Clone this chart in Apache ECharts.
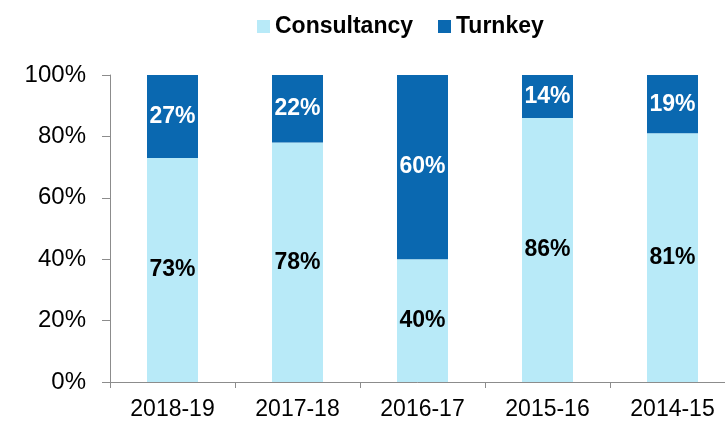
<!DOCTYPE html>
<html>
<head>
<meta charset="utf-8">
<script src="https://cdn.jsdelivr.net/npm/echarts@6/dist/echarts.min.js"></script>
<style>
  html, body { margin: 0; padding: 0; background: #fff; }
  #chart { width: 725px; height: 421px; }
</style>
</head>
<body>
<div id="chart"></div>
<script>
const years = ['2018-19', '2017-18', '2016-17', '2015-16', '2014-15']
const consultancy = [73, 78, 40, 86, 81]
const turnkey = [27, 22, 60, 14, 19]
const yTicks = [0, 20, 40, 60, 80, 100]

const node = document.getElementById('chart')
const myChart = echarts.init(node)

const font = 'Liberation Sans, Arial, sans-serif'
const axisGray = '#8c8c8c'

const option = {
	animation: false,
	legend: {
		data: ['Consultancy', 'Turnkey'],
		top: 10,
		left: 252,
		itemWidth: 13,
		itemHeight: 13,
		itemGap: 25,
		icon: 'rect',
		textStyle: {
			fontFamily: font,
			fontWeight: 'bold',
			fontSize: 23,
			color: '#000'
		}
	},
	grid: {
		left: 110,
		top: 75,
		width: 625,
		height: 307,
		outerBoundsMode: 'none'
	},
	xAxis: {
		type: 'category',
		data: years,
		axisLine: { lineStyle: { color: axisGray, width: 1 } },
		axisTick: { show: true, length: 6, lineStyle: { color: axisGray } },
		axisLabel: {
			fontFamily: font,
			fontSize: 23,
			color: '#000',
			margin: 16
		}
	},
	yAxis: {
		type: 'value',
		min: yTicks[0],
		max: yTicks[yTicks.length - 1],
		interval: 20,
		splitLine: { show: false },
		axisLine: { show: true, lineStyle: { color: axisGray, width: 1 } },
		axisTick: { show: true, length: 8, lineStyle: { color: axisGray } },
		axisLabel: {
			fontFamily: font,
			fontSize: 24,
			color: '#000',
			margin: 24,
			formatter: v => v + '%'
		}
	},
	series: [
		{
			name: 'Consultancy',
			type: 'bar',
			stack: 'total',
			barWidth: 51,
			data: consultancy,
			itemStyle: { color: '#b8eaf8' },
			label: {
				show: true,
				position: 'inside',
				fontFamily: font,
				fontWeight: 'bold',
				fontSize: 23,
				color: '#000',
				formatter: p => p.value + '%'
			}
		},
		{
			name: 'Turnkey',
			type: 'bar',
			stack: 'total',
			barWidth: 51,
			data: turnkey,
			itemStyle: { color: '#0a68b0' },
			label: {
				show: true,
				position: 'inside',
				fontFamily: font,
				fontWeight: 'bold',
				fontSize: 23,
				color: '#fff',
				formatter: p => p.value + '%'
			}
		}
	]
}

myChart.setOption(option)

window.addEventListener('resize', () => {
	myChart.resize()
})
</script>
</body>
</html>
